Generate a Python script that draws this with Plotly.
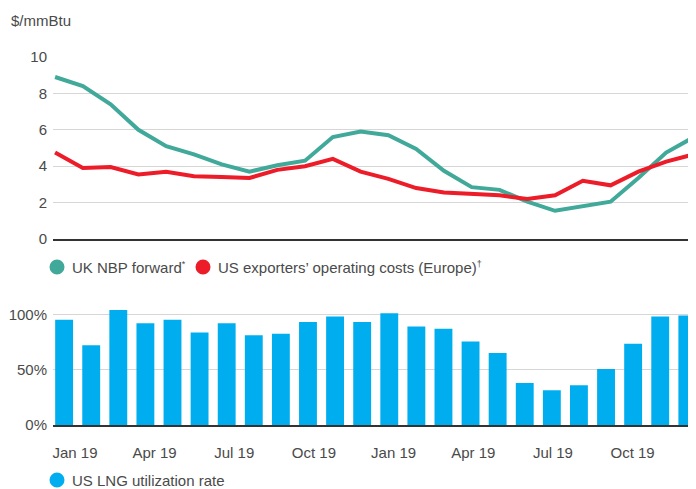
import plotly.graph_objects as go

# page body has an 8px margin, so the figure is drawn 8px smaller and offset
OFF = 8
W, H = 696 - OFF, 489 - OFF

months = list(range(24))
uk_nbp = [8.9, 8.4, 7.4, 6.0, 5.1, 4.65, 4.1, 3.7, 4.05, 4.3, 5.6, 5.9,
          5.7, 4.95, 3.75, 2.85, 2.7, 2.05, 1.55, 1.8, 2.05, 3.35, 4.75, 5.6]
us_costs = [4.75, 3.9, 3.95, 3.55, 3.7, 3.45, 3.4, 3.35, 3.8, 4.0, 4.4, 3.7,
            3.3, 2.8, 2.55, 2.5, 2.4, 2.2, 2.4, 3.2, 2.95, 3.7, 4.25, 4.65]
lng_util = [95, 72, 104, 92, 95, 83.5, 92, 81, 82.5, 93, 98, 93,
            101, 89, 87, 75.5, 65, 38, 31.5, 36, 50.5, 73.5, 98, 99]
tick_months = [0, 3, 6, 9, 12, 15, 18, 21]
tick_labels = ["Jan 19", "Apr 19", "Jul 19", "Oct 19",
               "Jan 19", "Apr 19", "Jul 19", "Oct 19"]

GREEN = "#40A999"
RED = "#EC1C28"
BLUE = "#00AEEF"
TXT = "#4a4a4a"
GRID = "#d6d6d6"
FONT = "Liberation Sans"
FS = 15

def px_x(p):
    return (p - OFF) / W

def px_y(p):
    return 1 - (p - OFF) / H

def small_sup(s):
    return "<sup><span style='font-size:9px'>" + s + "</span></sup>"

fig = go.Figure()

fig.add_trace(go.Scatter(x=months, y=uk_nbp, mode="lines", line=dict(color=GREEN, width=4),
                         xaxis="x", yaxis="y", showlegend=False))
fig.add_trace(go.Scatter(x=months, y=us_costs, mode="lines", line=dict(color=RED, width=4),
                         xaxis="x", yaxis="y", showlegend=False))
fig.add_trace(go.Bar(x=months, y=lng_util, marker=dict(color=BLUE, line=dict(width=0)), width=0.66,
                     xaxis="x2", yaxis="y2", showlegend=False))

dom_x = [px_x(53), 1]
fig.update_layout(
    template="none",
    width=W, height=H,
    autosize=False,
    margin=dict(l=0, r=0, t=0, b=0, pad=0, autoexpand=False),
    paper_bgcolor="white", plot_bgcolor="white",
    font=dict(family=FONT, size=FS, color=TXT),
    xaxis=dict(domain=dom_x, anchor="y", range=[-0.075, 23.075], showticklabels=False,
               automargin=False, ticks="",
               showgrid=False, zeroline=False, showline=True, linecolor="#333333", linewidth=2),
    yaxis=dict(domain=[px_y(239), px_y(57)], anchor="x", range=[0, 10], dtick=2,
               automargin=False,
               showgrid=True, gridcolor=GRID, gridwidth=1, zeroline=False, showline=False,
               ticks="outside", ticklen=2, tickcolor="rgba(0,0,0,0)"),
    xaxis2=dict(domain=dom_x, anchor="y2", range=[-0.41, 23.32],
                tickvals=[0.4 + 0.98 * m for m in tick_months], ticktext=tick_labels,
                automargin=False,
                showgrid=False, zeroline=False, showline=True, linecolor="#333333", linewidth=2,
                ticks="outside", ticklen=13, tickcolor="rgba(0,0,0,0)"),
    yaxis2=dict(domain=[px_y(425), px_y(308.8)], anchor="x2", range=[0, 105],
                tickvals=[0, 50, 100], ticktext=["0%", "50%", "100%"],
                automargin=False,
                showgrid=True, gridcolor=GRID, gridwidth=1, zeroline=False, showline=False,
                ticks="outside", ticklen=2, tickcolor="rgba(0,0,0,0)"),
)

# legend glyphs and text
legend_items = [
    (57, 267, GREEN, 71, "UK NBP forward" + small_sup("*")),
    (203, 267, RED, 217, "US exporters’ operating costs (Europe)" + small_sup("†")),
    (57, 480, BLUE, 71, "US LNG utilization rate"),
]
for cx, cy, col, tx, label in legend_items:
    fig.add_shape(type="circle", xref="paper", yref="paper",
                  xsizemode="pixel", ysizemode="pixel",
                  xanchor=px_x(cx), yanchor=px_y(cy),
                  x0=-7.5, x1=7.5, y0=-7.5, y1=7.5,
                  fillcolor=col, line=dict(width=0))
    fig.add_annotation(x=px_x(tx), y=px_y(cy), xref="paper", yref="paper",
                       text=label, showarrow=False, xanchor="left", yanchor="middle",
                       borderpad=0, font=dict(size=FS, color=TXT))

fig.add_annotation(x=px_x(10), y=px_y(20), xref="paper", yref="paper",
                   text="$/mmBtu", showarrow=False, xanchor="left", yanchor="middle",
                   borderpad=0, font=dict(size=FS, color=TXT))

fig.write_html("out.html")
